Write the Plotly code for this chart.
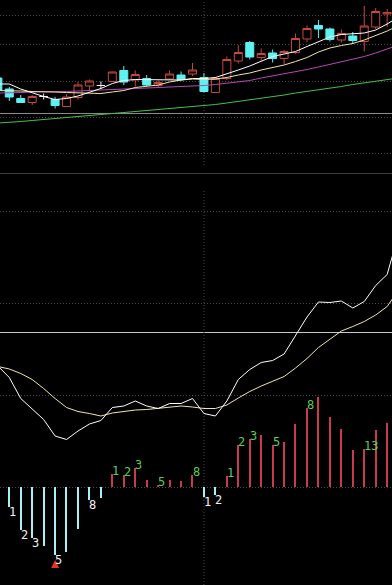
import plotly.graph_objects as go

# ---------------- data ----------------
candle_idx = list(range(-1, 34))
open_ = [10.94, 10.72, 10.53, 10.45, 10.57, 10.51, 10.37, 10.55, 10.78, 10.79,
         10.87, 11.09, 10.90, 10.93, 10.79, 10.92, 11.00, 11.02, 10.95, 10.65,
         10.93, 11.28, 11.65, 11.35, 11.44, 11.33, 11.45, 11.72, 11.99, 11.92,
         11.70, 11.78, 11.67, 11.96, 12.22]
high = [10.98, 10.76, 10.60, 10.60, 10.63, 10.56, 10.62, 10.86, 10.91, 10.87,
        11.07, 11.18, 11.09, 11.00, 10.89, 11.09, 11.07, 11.24, 11.04, 10.96,
        11.37, 11.60, 11.68, 11.53, 11.51, 11.50, 11.83, 11.99, 12.10, 11.95,
        11.91, 11.86, 12.38, 12.34, 12.32]
low = [10.66, 10.48, 10.44, 10.40, 10.51, 10.33, 10.36, 10.51, 10.70, 10.72,
       10.86, 10.80, 10.77, 10.77, 10.75, 10.90, 10.90, 10.98, 10.65, 10.64,
       10.90, 11.23, 11.31, 11.29, 11.25, 11.22, 11.42, 11.66, 11.74, 11.67,
       11.65, 11.62, 11.47, 11.92, 11.96]
close = [10.70, 10.56, 10.45, 10.57, 10.57, 10.39, 10.56, 10.80, 10.88, 10.79,
         11.06, 10.86, 11.01, 10.80, 10.85, 11.02, 10.91, 11.10, 10.67, 10.93,
         11.31, 11.45, 11.36, 11.43, 11.33, 11.47, 11.73, 11.93, 11.92, 11.71,
         11.83, 11.69, 11.98, 12.27, 12.25]

line_idx = list(range(-1, 35))
ma5 = [10.82, 10.82, 10.72, 10.64, 10.57, 10.51, 10.53, 10.58, 10.65, 10.73,
       10.83, 10.89, 10.91, 10.91, 10.91, 10.91, 10.90, 10.93, 10.93, 10.95,
       11.02, 11.10, 11.18, 11.28, 11.37, 11.42, 11.47, 11.57, 11.67, 11.76,
       11.81, 11.82, 11.84, 11.90, 12.02, 12.16]
ma10 = [10.69, 10.69, 10.68, 10.67, 10.67, 10.66, 10.65, 10.64, 10.63, 10.63,
        10.66, 10.69, 10.75, 10.77, 10.80, 10.86, 10.90, 10.92, 10.91, 10.92,
        10.95, 11.00, 11.04, 11.10, 11.15, 11.20, 11.27, 11.35, 11.46, 11.54,
        11.59, 11.63, 11.70, 11.79, 11.88, 11.99]
ma20 = [10.64, 10.64, 10.65, 10.66, 10.66, 10.67, 10.67, 10.68, 10.69, 10.70,
        10.70, 10.71, 10.72, 10.73, 10.74, 10.75, 10.76, 10.78, 10.79, 10.81,
        10.84, 10.86, 10.89, 10.94, 10.98, 11.02, 11.07, 11.11, 11.16, 11.21,
        11.27, 11.32, 11.37, 11.44, 11.52, 11.60]
ma60 = [10.04, 10.05, 10.07, 10.09, 10.11, 10.13, 10.15, 10.16, 10.18, 10.20,
        10.22, 10.25, 10.27, 10.29, 10.31, 10.33, 10.35, 10.36, 10.39, 10.41,
        10.44, 10.47, 10.50, 10.53, 10.57, 10.60, 10.64, 10.67, 10.71, 10.74,
        10.77, 10.81, 10.84, 10.87, 10.91, 10.94]

dif = [-0.068, -0.091, -0.133, -0.155, -0.175, -0.208, -0.215, -0.198, -0.184, -0.177,
       -0.151, -0.148, -0.138, -0.148, -0.153, -0.143, -0.143, -0.133, -0.163, -0.168,
       -0.138, -0.095, -0.075, -0.061, -0.057, -0.044, -0.008, 0.030, 0.060, 0.059,
       0.062, 0.048, 0.061, 0.093, 0.115, 0.196]
dea = [-0.069, -0.074, -0.083, -0.095, -0.113, -0.133, -0.151, -0.159, -0.163, -0.168,
       -0.162, -0.159, -0.156, -0.155, -0.153, -0.150, -0.148, -0.150, -0.153, -0.153,
       -0.146, -0.132, -0.119, -0.108, -0.099, -0.089, -0.072, -0.053, -0.031, -0.015,
       0.002, 0.011, 0.021, 0.034, 0.051, 0.084]

hist_idx = list(range(-1, 34))
macd_hist = [0.006, -0.039, -0.086, -0.101, -0.118, -0.136, -0.129, -0.083, -0.025, -0.021,
             0.027, 0.024, 0.039, 0.015, 0.004, 0.015, 0.013, 0.024, -0.019, -0.016,
             0.022, 0.084, 0.096, 0.104, 0.085, 0.091, 0.126, 0.158, 0.181, 0.141,
             0.117, 0.074, 0.077, 0.114, 0.129]

count_label_idx = [-1, 0, 1, 2, 4, 7, 9, 10, 11, 13, 16, 17, 18, 19, 20, 21, 23, 26, 31]
count_label_text = ["3", "1", "2", "3", "5", "8", "1", "2", "3", "5", "8",
                    "1", "2", "1", "2", "3", "5", "8", "13"]
buy_signal_idx = [4]
cursor_idx = 17

# ---------------- layout / style ----------------
W, H = 392, 585
X_RANGE = [-0.812, 33.424]
HIST_PER_PX = 0.002


def paper_y(px):
    return 1 - px / H


BG = "#000000"
UP_RED = "#c4483e"
DOWN_CYAN = "#5cf2f2"
DOJI = "#f0f0f0"
GRID = "#4a4a4a"
DOT = "1px,2px"
BAR_RED = "#c83a4e"
BAR_CYAN = "#a8f0f8"
LBL_GREEN = "#5ccc5c"
LBL_WHITE = "#f2f2f2"

fig = go.Figure()

groups = [
    (lambda o, c: c > o, UP_RED, BG),
    (lambda o, c: c < o, DOWN_CYAN, DOWN_CYAN),
    (lambda o, c: c == o, DOJI, BG),
]
for cond, col, fill in groups:
    ks = [k for k in range(len(candle_idx)) if cond(open_[k], close[k])]
    fig.add_trace(go.Candlestick(
        x=[candle_idx[k] for k in ks],
        open=[open_[k] for k in ks],
        high=[high[k] for k in ks],
        low=[low[k] for k in ks],
        close=[close[k] for k in ks],
        xaxis="x", yaxis="y",
        increasing=dict(line=dict(color=col, width=1), fillcolor=fill),
        decreasing=dict(line=dict(color=col, width=1), fillcolor=fill),
        showlegend=False,
    ))

for series, col in [(ma60, "#46c046"), (ma20, "#b848b8"), (ma10, "#f0e6a8"), (ma5, "#ffffff")]:
    fig.add_trace(go.Scatter(x=line_idx, y=series, mode="lines", xaxis="x", yaxis="y",
                             line=dict(color=col, width=1), showlegend=False))

fig.add_trace(go.Scatter(x=line_idx, y=dea, mode="lines", xaxis="x", yaxis="y2",
                         line=dict(color="#f0e6a8", width=1), showlegend=False))
fig.add_trace(go.Scatter(x=line_idx, y=dif, mode="lines", xaxis="x", yaxis="y2",
                         line=dict(color="#ffffff", width=1), showlegend=False))

fig.add_trace(go.Bar(x=hist_idx, y=macd_hist, xaxis="x", yaxis="y3", width=0.1,
                     marker=dict(color=[BAR_RED if v >= 0 else BAR_CYAN for v in macd_hist],
                                 line=dict(width=0)),
                     showlegend=False))

fig.add_trace(go.Scatter(
    x=buy_signal_idx,
    y=[macd_hist[hist_idx.index(i)] - 5 * HIST_PER_PX for i in buy_signal_idx],
    mode="markers", xaxis="x", yaxis="y3",
    marker=dict(symbol="arrow-up", size=8, color="#e8341c"),
    showlegend=False))

annotations = []
for i, t in zip(count_label_idx, count_label_text):
    v = macd_hist[hist_idx.index(i)]
    up = v > 0
    annotations.append(dict(
        x=i, y=v, xref="x", yref="y3", text=t, showarrow=False,
        xanchor="left", yanchor="middle", xshift=-2, yshift=3 if up else -5,
        font=dict(family="DejaVu Sans Mono", size=12, color=LBL_GREEN if up else LBL_WHITE)))

shapes = []
for p in [15, 44, 81, 117, 153, 211, 303, 395, 487]:
    yy = paper_y(p + 0.5)
    shapes.append(dict(type="line", xref="paper", yref="paper", x0=0, x1=1, y0=yy, y1=yy,
                       line=dict(color=GRID, width=1, dash=DOT), layer="below"))
for p, col in [(113, "#8a8a8a"), (173, "#3c3c3c"), (332, "#c8c8c8")]:
    yy = paper_y(p + 0.5)
    shapes.append(dict(type="line", xref="paper", yref="paper", x0=0, x1=1, y0=yy, y1=yy,
                       line=dict(color=col, width=1), layer="below"))
for y0, y1 in [(paper_y(165), 1), (0, paper_y(190))]:
    shapes.append(dict(type="line", xref="x", yref="paper", x0=cursor_idx, x1=cursor_idx,
                       y0=y0, y1=y1, line=dict(color=GRID, width=1, dash=DOT), layer="below"))

fig.update_layout(
    width=W, height=H,
    margin=dict(l=0, r=0, t=0, b=0, pad=0),
    paper_bgcolor=BG, plot_bgcolor=BG,
    showlegend=False, hovermode=False,
    boxgap=0.3, boxgroupgap=0, bargap=0,
    xaxis=dict(range=X_RANGE, visible=False, rangeslider=dict(visible=False), fixedrange=True),
    yaxis=dict(domain=[paper_y(130), 1], range=[9.9, 12.5], visible=False, fixedrange=True),
    yaxis2=dict(domain=[0, paper_y(230)], range=[-0.506, 0.204], visible=False, fixedrange=True),
    yaxis3=dict(overlaying="y2", range=[-0.196, 0.514], visible=False, fixedrange=True),
    annotations=annotations,
    shapes=shapes,
)

fig.write_html("out.html")
